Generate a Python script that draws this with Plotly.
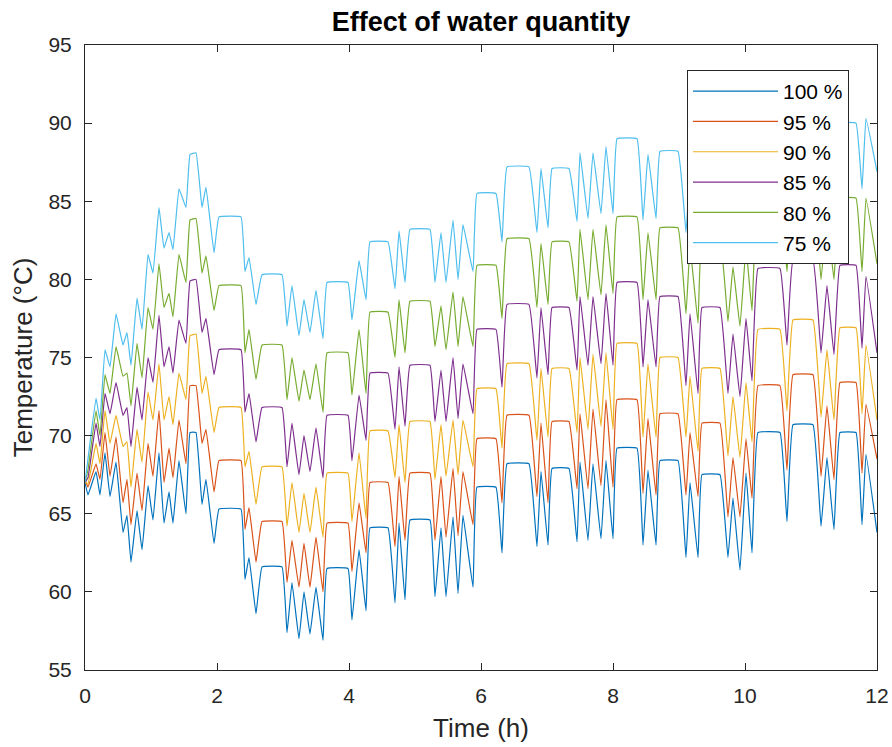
import plotly.graph_objects as go

# ---------------- data ----------------
time_h = [0.000, 0.045, 0.167, 0.227, 0.303, 0.379, 0.470, 0.576, 0.636, 0.697,
          0.788, 0.864, 0.955, 1.030, 1.121, 1.197, 1.273, 1.333, 1.424, 1.530,
          1.591, 1.682, 1.773, 1.833, 1.955, 2.030, 2.364, 2.424, 2.485, 2.591,
          2.682, 2.985, 3.061, 3.136, 3.242, 3.318, 3.409, 3.500, 3.606, 3.667,
          3.985, 4.045, 4.152, 4.258, 4.318, 4.591, 4.697, 4.758, 4.848, 4.924,
          5.227, 5.303, 5.394, 5.470, 5.576, 5.652, 5.727, 5.879, 5.939, 6.227,
          6.318, 6.394, 6.727, 6.848, 6.909, 7.015, 7.076, 7.333, 7.455, 7.500,
          7.621, 7.697, 7.818, 7.894, 8.000, 8.061, 8.364, 8.455, 8.530, 8.652,
          8.712, 8.985, 9.106, 9.167, 9.288, 9.348, 9.621, 9.742, 9.818, 9.924,
          10.015, 10.106, 10.197, 10.530, 10.636, 10.727, 11.030, 11.152, 11.242, 11.348,
          11.439, 11.682, 11.773, 11.833, 12.000]

temp_100 = [67.0, 66.2, 67.7, 66.2, 68.9, 66.1, 68.3, 63.8, 64.9, 61.9,
            65.2, 62.7, 66.8, 64.6, 68.9, 64.4, 66.4, 64.4, 68.4, 65.0,
            70.2, 70.2, 65.6, 67.2, 63.1, 65.3, 65.3, 60.8, 62.2, 58.6,
            61.6, 61.6, 57.4, 60.6, 57.0, 60.0, 57.3, 60.3, 56.9, 61.5,
            61.5, 58.2, 62.7, 58.8, 64.1, 64.1, 59.3, 64.4, 59.5, 64.6,
            64.6, 59.7, 64.1, 59.7, 64.8, 59.9, 64.9, 60.3, 66.7, 66.7,
            62.5, 68.2, 68.2, 62.9, 67.7, 63.0, 67.9, 67.9, 63.2, 68.3,
            63.3, 68.2, 63.4, 68.4, 63.4, 69.2, 69.2, 63.0, 67.8, 63.0,
            68.4, 68.4, 62.2, 67.0, 62.2, 67.5, 67.5, 62.2, 66.0, 61.4,
            67.6, 62.5, 70.2, 70.2, 64.5, 70.7, 70.7, 64.2, 68.6, 64.0,
            70.2, 70.2, 64.3, 68.8, 63.8]

temp_95 = [67.2, 66.7, 68.2, 67.2, 70.2, 67.4, 69.9, 65.7, 67.2, 64.3,
           67.6, 65.2, 69.5, 67.4, 71.6, 67.0, 69.2, 67.3, 71.0, 68.2,
           73.2, 73.2, 69.5, 70.4, 66.4, 68.4, 68.4, 64.0, 65.4, 61.9,
           64.5, 64.5, 60.6, 63.3, 60.3, 63.1, 60.3, 63.5, 60.0, 64.4,
           64.4, 61.3, 65.7, 62.5, 67.0, 67.0, 62.9, 67.4, 63.3, 67.6,
           67.6, 63.3, 67.4, 63.5, 67.9, 63.6, 67.7, 64.3, 69.8, 69.8,
           65.7, 71.3, 71.3, 66.1, 70.8, 65.7, 70.9, 70.9, 66.6, 71.4,
           66.6, 71.7, 66.8, 72.3, 66.7, 72.3, 72.3, 66.3, 71.1, 66.2,
           71.4, 71.4, 66.2, 70.2, 66.1, 70.8, 70.8, 64.8, 68.6, 64.8,
           69.8, 66.0, 73.2, 73.2, 67.8, 73.9, 73.9, 67.4, 71.9, 67.2,
           73.4, 73.4, 67.6, 72.0, 68.5]

temp_90 = [67.0, 66.9, 69.5, 68.2, 71.6, 69.5, 71.3, 69.3, 69.6, 66.7,
           70.4, 68.3, 72.8, 71.0, 74.6, 71.0, 72.5, 70.7, 74.0, 72.3,
           76.4, 76.5, 72.7, 73.8, 70.2, 71.8, 71.8, 68.0, 69.0, 65.6,
           68.0, 68.0, 64.2, 67.0, 63.8, 66.3, 63.8, 66.7, 63.5, 67.6,
           67.6, 64.5, 68.9, 64.7, 70.3, 70.3, 67.3, 70.7, 67.0, 70.9,
           70.9, 67.2, 70.7, 67.4, 71.0, 67.5, 71.0, 68.0, 73.0, 73.0,
           69.2, 74.6, 74.6, 69.7, 74.3, 69.9, 74.3, 74.3, 70.2, 75.0,
           70.4, 75.2, 70.6, 75.3, 70.4, 75.9, 75.9, 69.9, 74.6, 69.9,
           75.0, 75.0, 69.9, 73.8, 69.0, 74.3, 74.3, 68.7, 72.5, 68.6,
           73.4, 69.6, 76.8, 76.8, 71.6, 77.4, 77.4, 71.2, 75.5, 71.0,
           76.9, 76.9, 71.4, 75.8, 71.0]

temp_85 = [67.0, 67.3, 70.8, 69.3, 72.7, 71.4, 73.4, 71.3, 71.8, 69.3,
           73.1, 71.0, 75.0, 73.4, 77.7, 74.4, 75.7, 74.0, 77.4, 75.9,
           79.9, 80.0, 76.6, 77.5, 73.9, 75.5, 75.5, 71.5, 72.7, 69.6,
           71.8, 71.8, 68.0, 70.8, 67.5, 70.0, 67.7, 70.5, 67.3, 71.3,
           71.3, 68.4, 72.6, 69.7, 74.0, 74.0, 70.4, 74.4, 70.6, 74.5,
           74.5, 70.9, 74.2, 70.9, 75.0, 71.1, 74.6, 71.4, 76.8, 76.8,
           73.1, 78.4, 78.4, 73.7, 78.2, 73.9, 78.2, 78.2, 74.2, 78.9,
           74.5, 78.9, 74.6, 79.1, 74.5, 79.8, 79.8, 74.4, 78.7, 74.4,
           78.9, 78.9, 73.2, 77.8, 72.7, 78.2, 78.2, 72.7, 76.5, 72.5,
           77.5, 73.5, 80.7, 80.7, 75.8, 81.2, 81.2, 75.3, 79.6, 75.2,
           80.9, 80.9, 75.6, 80.2, 75.3]

temp_80 = [67.0, 67.8, 71.6, 70.0, 73.9, 72.7, 75.7, 73.8, 74.0, 71.9,
           75.9, 73.7, 78.2, 76.8, 81.0, 78.2, 79.1, 77.6, 81.6, 79.8,
           83.8, 83.9, 80.4, 81.5, 78.0, 79.6, 79.6, 75.3, 76.8, 73.6,
           75.8, 75.8, 72.3, 75.0, 72.2, 74.2, 72.3, 74.6, 71.5, 75.3,
           75.3, 72.6, 76.8, 72.7, 77.9, 77.9, 75.0, 78.7, 75.3, 78.6,
           78.6, 75.7, 78.3, 75.5, 79.2, 75.7, 78.9, 75.7, 80.9, 80.9,
           77.5, 82.6, 82.6, 78.2, 82.3, 78.4, 82.4, 82.4, 78.6, 83.2,
           78.7, 83.2, 79.0, 83.5, 79.1, 84.0, 84.0, 78.7, 83.0, 78.7,
           83.3, 83.3, 77.8, 82.1, 77.2, 82.5, 82.5, 77.3, 80.8, 77.0,
           82.0, 78.0, 85.0, 85.0, 80.5, 85.5, 85.5, 80.0, 84.0, 80.0,
           85.2, 85.2, 80.5, 85.2, 81.0]

temp_75 = [67.0, 68.5, 72.4, 71.0, 75.5, 74.4, 77.8, 75.8, 76.6, 74.5,
           78.8, 76.8, 81.6, 80.4, 84.6, 82.0, 83.0, 81.9, 85.8, 84.6,
           88.0, 88.1, 84.6, 85.9, 81.7, 84.0, 84.0, 80.5, 81.4, 78.4,
           80.3, 80.3, 77.0, 79.6, 76.4, 78.7, 76.6, 79.3, 76.2, 79.8,
           79.8, 77.4, 81.2, 78.7, 82.4, 82.4, 79.4, 83.1, 79.8, 83.2,
           83.2, 79.8, 83.0, 79.8, 83.8, 80.0, 83.5, 80.5, 85.5, 85.5,
           82.4, 87.2, 87.2, 83.0, 87.1, 83.3, 87.1, 87.1, 83.7, 88.1,
           83.9, 88.1, 84.2, 88.5, 84.2, 89.0, 89.0, 83.8, 88.0, 83.9,
           88.2, 88.2, 83.0, 87.0, 82.6, 87.3, 87.3, 82.5, 85.8, 82.3,
           87.0, 83.0, 89.9, 89.9, 85.7, 90.2, 90.2, 85.3, 89.0, 85.3,
           90.0, 90.0, 85.8, 90.3, 86.9]

series_names = ["100 %", "95 %", "90 %", "85 %", "80 %", "75 %"]
series_values = [temp_100, temp_95, temp_90, temp_85, temp_80, temp_75]
series_colors = ["#0072BD", "#D95319", "#EDB120", "#7E2F8E", "#77AC30", "#4DBEEE"]

x_ticks = [0, 2, 4, 6, 8, 10, 12]
y_ticks = [55, 60, 65, 70, 75, 80, 85, 90, 95]

for vals in series_values:
    assert len(vals) == len(time_h)

# ---------------- figure ----------------
FONT = "Liberation Sans, Arial, Helvetica, sans-serif"
AX = "#262626"

fig = go.Figure()
for name, vals, col in zip(series_names, series_values, series_colors):
    fig.add_trace(go.Scatter(x=time_h, y=vals, mode="lines", name=name,
                             legendgroup=name,
                             line=dict(color=col, width=1.2, shape="spline",
                                       smoothing=0.25)))

axis_common = dict(showgrid=False, zeroline=False, showline=True, linecolor=AX,
                   linewidth=1, mirror="ticks", ticks="inside", ticklen=7,
                   tickcolor=AX, tickwidth=1, automargin=False,
                   tickfont=dict(family=FONT, size=21, color=AX))

fig.update_layout(
    width=892, height=747,
    margin=dict(l=85, r=15, t=45, b=77),
    paper_bgcolor="white", plot_bgcolor="white",
    font=dict(family=FONT, color=AX),
    title=dict(text="<b>Effect of water quantity</b>", x=0.5, xref="paper",
               y=1 - 22 / 747, yref="container", yanchor="middle", xanchor="center",
               font=dict(family=FONT, size=27, color="black")),
    xaxis=dict(range=[0, 12], tickvals=x_ticks, ticklabelstandoff=7,
               title=dict(text="Time (h)", font=dict(family=FONT, size=26, color=AX),
                          standoff=12),
               **axis_common),
    yaxis=dict(range=[55, 95], tickvals=y_ticks, ticklabelstandoff=8,
               title=dict(text="Temperature (°C)", font=dict(family=FONT, size=26, color=AX),
                          standoff=8),
               **axis_common),
    legend=dict(x=(687 - 85) / 792, y=1 - (70 - 45) / 625, xanchor="left", yanchor="top",
                bgcolor="white", bordercolor=AX, borderwidth=1,
                font=dict(family=FONT, size=21, color="black"),
                tracegroupgap=0, itemwidth=85),
    showlegend=True,
)

fig.write_html("out.html")
